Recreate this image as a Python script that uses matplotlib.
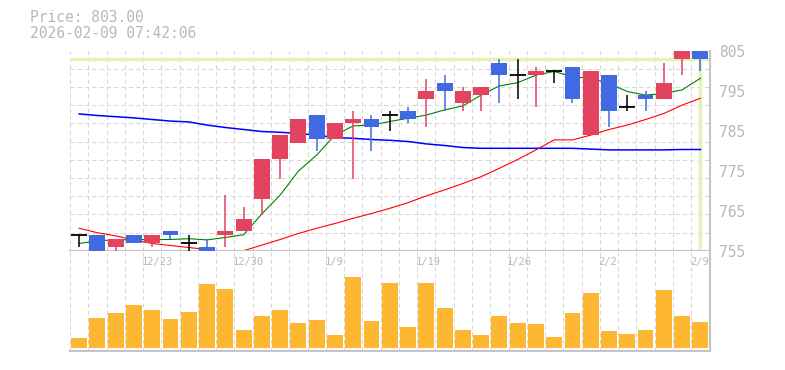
import numpy as np
import matplotlib
matplotlib.use('Agg')
import matplotlib.pyplot as plt
from matplotlib.transforms import blended_transform_factory

# ---------------- data ----------------
opens  = [759, 759, 756, 759, 757, 760, 757, 756, 759, 760, 768, 778, 782, 789, 783, 787, 788, 789,
          790, 793, 797, 792, 794, 802, 799, 799, 800, 801, 784, 799, 791, 794, 793, 803, 806]
highs  = [759, 759, 758, 759, 759, 760, 759, 758, 769, 766, 778, 784, 788, 789, 787, 790, 789, 790,
          791, 798, 799, 796, 796, 803, 803, 801, 800, 801, 800, 799, 794, 795, 802, 808, 806]
lows   = [756, 754, 754, 757, 756, 758, 754, 754, 756, 760, 764, 773, 782, 780, 783, 773, 780, 785,
          787, 786, 790, 790, 790, 792, 793, 791, 797, 792, 784, 786, 790, 790, 793, 799, 800]
closes = [759, 755, 758, 757, 759, 759, 757, 755, 760, 763, 778, 784, 788, 783, 787, 788, 786, 789,
          788, 795, 795, 795, 796, 799, 799, 800, 800, 793, 800, 790, 791, 793, 797, 806, 803]

volume = [19, 59, 69, 85, 75, 57, 71, 127, 117, 35, 63, 75, 49, 55, 25, 141, 53, 129,
          41, 129, 79, 35, 25, 63, 49, 47, 21, 69, 109, 33, 27, 35, 115, 63, 51]   # thousand shares

ma_short = [756.8, 757.5, 757.7, 757.8, 757.8, 757.8, 758.0, 757.7, 758.3, 759.0, 764.2, 768.9,
            774.9, 778.9, 783.9, 786.2, 786.4, 787.3, 788.1, 788.9, 790.2, 791.2, 793.9, 796.2,
            797.0, 798.9, 799.8, 798.5, 798.1, 796.8, 794.8, 793.9, 794.3, 795.2, 798.1]
ma_mid = [760.6, 759.5, 758.7, 757.7, 756.8, 756.3, 755.8, 755.3, 754.6, 755.0, 756.4, 757.8,
          759.3, 760.6, 761.8, 763.1, 764.3, 765.6, 767.0, 768.7, 770.2, 771.8, 773.5, 775.6,
          777.8, 780.2, 782.7, 782.7, 783.9, 785.3, 786.4, 787.8, 789.3, 791.4, 793.1]
ma_long = [789.2, 788.8, 788.5, 788.2, 787.8, 787.4, 787.2, 786.4, 785.8, 785.3, 784.8, 784.6,
           784.3, 783.9, 783.3, 783.1, 782.8, 782.6, 782.3, 781.7, 781.3, 780.8, 780.6, 780.6,
           780.6, 780.6, 780.6, 780.6, 780.4, 780.2, 780.2, 780.2, 780.2, 780.3, 780.3]

date_pos = [4, 9, 14, 19, 24, 29, 34]
date_lbl = ['12/23', '12/30', '1/9', '1/19', '1/26', '2/2', '2/9']
price_ticks = [755, 765, 775, 785, 795, 805]

last_price = 803.00
stamp = '2026-02-09 07:42:06'

# ---------------- style ----------------
UP = '#e2435f'
DOWN = '#4169e1'
VOL = '#fdb732'
GRID = '#d6d6d6'
TXT = '#b8b8b8'
CROSS = '#e2f3b2'
SPINE = '#c4c4c4'
MONO = 'DejaVu Sans Mono'

W, H = 785, 370
fig = plt.figure(figsize=(W / 100, H / 100), dpi=100)
left, right = 70 / W, 709.5 / W
ax = fig.add_axes([left, (H - 250.7) / H, right - left, 200 / H])
axv = fig.add_axes([left, (H - 350.7) / H, right - left, 100 / H])

n = len(closes)
x = np.arange(n)

for a in (ax, axv):
    a.set_xlim(-0.5, n - 0.5)
    a.set_xticks([])
    a.set_xticks(np.arange(-0.5, n, 1), minor=True)
    a.tick_params(which='both', length=0, labelbottom=False)
    a.grid(which='minor', axis='x', color=GRID, lw=0.75, ls=(0, (4, 3)))
    a.spines['left'].set_visible(False)
    a.spines['top'].set_visible(False)
    for s in ('right', 'bottom'):
        a.spines[s].set_color(SPINE)
        a.spines[s].set_linewidth(1.5)
    a.set_axisbelow(True)

# price panel
ax.set_ylim(755, 805)
ax.set_yticks(price_ticks)
ax.set_yticks(np.linspace(755, 805, 12), minor=True)
ax.grid(which='minor', axis='y', color=GRID, lw=0.75, ls=(0, (4, 3)))
ax.yaxis.tick_right()
ax.tick_params(axis='y', which='major', length=0, pad=7, labelsize=10.5, labelcolor=TXT)
for t in ax.get_yticklabels():
    t.set_family(MONO)

# crosshair on last candle
ax.axhline(last_price, color=CROSS, lw=2.4, zorder=1.5)
ax.axvline(x[-1], color=CROSS, lw=2.4, zorder=1.5)

# moving averages
ax.plot(x, ma_long, color='#0000ff', lw=1.1, zorder=2)
ax.plot(x, ma_mid, color='#ff0000', lw=0.8, zorder=2)
ax.plot(x, ma_short, color='#008000', lw=0.8, zorder=2)

# candles
bw = 0.87
for i in range(n):
    o, h, l, c = opens[i], highs[i], lows[i], closes[i]
    if c > o:
        col = UP
    elif c < o:
        col = DOWN
    else:
        col = 'black'
    ax.vlines(i, l, h, color=col, lw=1.1, zorder=3)
    if c == o:
        ax.hlines(o, i - bw / 2, i + bw / 2, color=col, lw=1.3, zorder=3)
    else:
        ax.bar(i, abs(c - o), bottom=min(o, c), width=bw, color=col, lw=0, zorder=3)

# volume panel
axv.bar(x, volume, width=bw, color=VOL, lw=0, zorder=2)
axv.set_ylim(-6, 194)
axv.set_yticks([])

trans = blended_transform_factory(axv.transData, axv.transAxes)
for p, s in zip(date_pos, date_lbl):
    axv.text(p - 0.58, 0.885, s, transform=trans, ha='left', va='center',
             fontsize=7.5, color=TXT, family=MONO)

fig.text(30 / W, 1 - 17.7 / H, 'Price: %.2f' % last_price, ha='left', va='center',
         fontsize=10.5, color=TXT, family=MONO)
fig.text(30 / W, 1 - 33.3 / H, stamp, ha='left', va='center',
         fontsize=10.5, color=TXT, family=MONO)

fig.savefig('out.png', dpi=100)
